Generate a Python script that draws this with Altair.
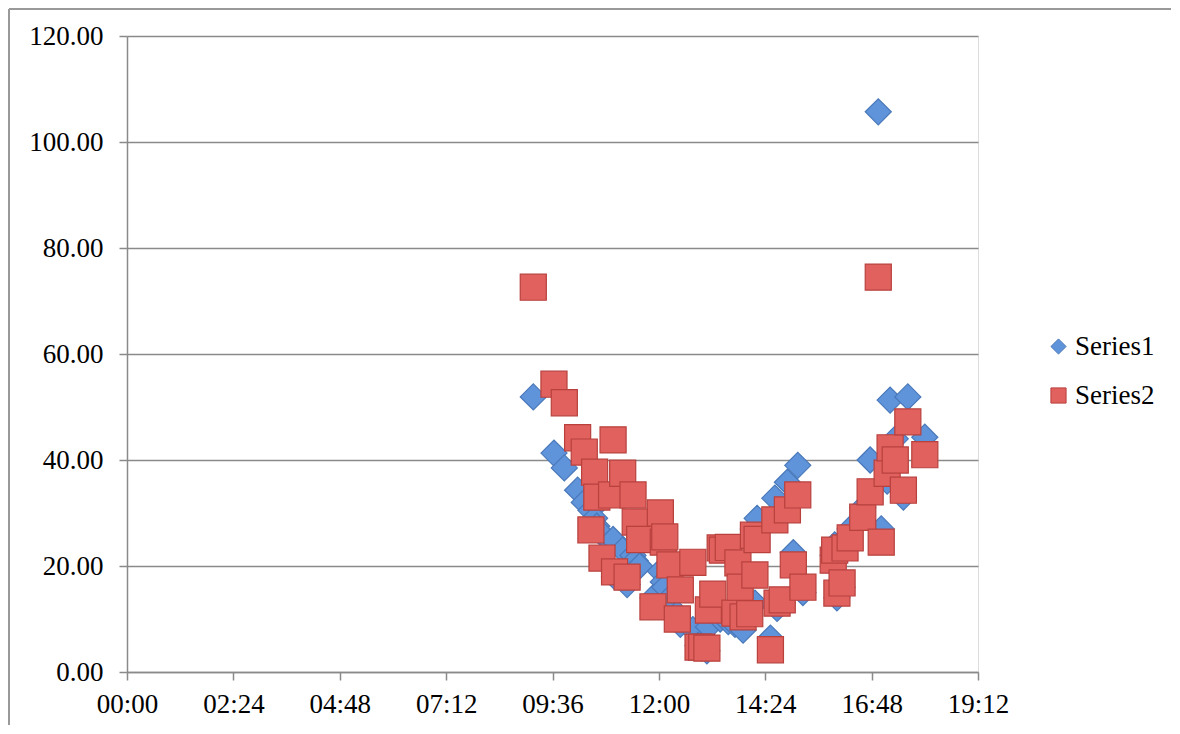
import altair as alt
import pandas as pd

# Shared x values (time of day, HH:MM)
times = ["09:10", "09:38", "09:52", "10:10", "10:19", "10:28", "10:33", "10:36", "10:43", "10:56",
         "10:58", "11:00", "11:11", "11:17", "11:25", "11:28", "11:34", "11:52", "12:02", "12:06",
         "12:08", "12:15", "12:25", "12:29", "12:46", "12:53", "12:58", "13:05", "13:07", "13:13",
         "13:23", "13:26", "13:34", "13:43", "13:47", "13:50", "13:54", "14:03", "14:08", "14:10",
         "14:13", "14:31", "14:37", "14:40", "14:47", "14:54", "15:02", "15:08", "15:15", "15:56",
         "15:58", "16:01", "16:08", "16:12", "16:19", "16:36", "16:46", "16:57", "17:01", "17:09",
         "17:13", "17:20", "17:31", "17:37", "18:00"]

series1 = [51.9, 41.3, 38.5, 34.3, 32.0, 30.5, 29.0, 27.5, 26.0, 24.5,
           25.0, 18.0, 23.0, 16.5, 22.0, 21.0, 20.0, 14.0, 19.0, 17.0,
           16.0, 14.0, 11.0, 9.0, 8.0, 5.0, 4.5, 4.0, 8.5, 13.0,
           10.0, 11.0, 9.5, 9.0, 10.0, 11.0, 7.9, 12.0, 27.0, 13.0,
           29.0, 6.4, 32.8, 12.0, 13.0, 35.8, 22.5, 39.0, 15.0, 22.0,
           24.0, 14.0, 16.0, 25.0, 27.0, 31.0, 40.0, 105.7, 27.0, 36.0,
           51.3, 44.0, 33.0, 51.9, 44.3]

series2 = [72.6, 54.3, 50.8, 44.2, 41.5, 26.8, 37.7, 33.0, 21.5, 33.4,
           43.8, 18.9, 37.5, 17.9, 33.4, 28.3, 25.0, 12.3, 30.0, 24.5,
           25.5, 20.2, 10.0, 15.5, 20.7, 4.7, 4.7, 4.5, 11.7, 14.7,
           23.4, 23.0, 23.5, 11.1, 20.6, 16.0, 10.4, 11.0, 25.8, 18.3,
           25.0, 4.2, 28.7, 13.0, 13.6, 30.6, 20.2, 33.4, 16.0, 21.1,
           23.0, 14.9, 16.8, 23.4, 25.3, 29.2, 34.0, 74.5, 24.5, 37.5,
           42.3, 40.0, 34.3, 47.2, 41.0]

series_names = ["Series1", "Series2"]
x_ticks = [0, 144, 288, 432, 576, 720, 864, 1008, 1152]
y_ticks = [0, 20, 40, 60, 80, 100, 120]


def to_min(t):
    h, m = t.split(":")
    return int(h) * 60 + int(m)


rows = []
for t, v in zip(times, series1):
    rows.append({"t": to_min(t), "v": v, "s": "Series1"})
for t, v in zip(times, series2):
    rows.append({"t": to_min(t), "v": v, "s": "Series2"})
df = pd.DataFrame(rows)

FONT = "Liberation Serif"
FS = 27
GRID = "#8a8a8a"

label_expr = ("(floor(datum.value/60) < 10 ? '0' : '') + floor(datum.value/60) + ':' + "
              "(datum.value % 60 < 10 ? '0' : '') + (datum.value % 60)")

points = alt.Chart(df).mark_point(filled=True, size=680, opacity=1, strokeWidth=1.2).encode(
    x=alt.X("t:Q", scale=alt.Scale(domain=[0, 1152], nice=False, zero=False),
            axis=alt.Axis(values=x_ticks, labelExpr=label_expr, title=None, grid=False,
                          domainColor=GRID, domainWidth=1.5, tickColor=GRID, tickWidth=1.5,
                          tickSize=8, labelFont=FONT, labelFontSize=FS, labelColor="black",
                          labelPadding=11, labelFlush=False)),
    y=alt.Y("v:Q", scale=alt.Scale(domain=[0, 120], nice=False),
            axis=alt.Axis(values=y_ticks, format=".2f", title=None, grid=True,
                          gridColor=GRID, gridWidth=1.5, domainColor=GRID, domainWidth=1.5,
                          tickColor=GRID, tickWidth=1.5, tickSize=8, labelFont=FONT,
                          labelFontSize=FS, labelColor="black", labelPadding=16)),
    color=alt.Color("s:N", scale=alt.Scale(domain=series_names, range=["#5F93DA", "#E0615D"]),
                    legend=alt.Legend(title=None, orient="none", legendX=918, legendY=297,
                                      labelFont=FONT, labelFontSize=FS, labelColor="black",
                                      symbolSize=230, rowPadding=21, labelOffset=3,
                                      symbolStrokeWidth=1)),
    stroke=alt.Stroke("s:N", scale=alt.Scale(domain=series_names, range=["#4A79BA", "#B8413E"]),
                      legend=None),
    shape=alt.Shape("s:N", scale=alt.Scale(domain=series_names, range=["diamond", "square"]),
                    legend=None),
    order=alt.Order("s:N", sort="ascending"),
)

frame_left = alt.Chart(pd.DataFrame({"a": [0]})).mark_rule(color="#999999", strokeWidth=2, clip=False).encode(
    x=alt.value(-118), y=alt.value(-27), y2=alt.value(730))
frame_top = alt.Chart(pd.DataFrame({"a": [0]})).mark_rule(color="#999999", strokeWidth=2, clip=False).encode(
    x=alt.value(-118), x2=alt.value(1080), y=alt.value(-27))

chart = alt.layer(frame_left, frame_top, points).properties(
    width=851, height=636,
    autosize=alt.AutoSizeParams(type="none"),
    padding={"left": 119, "top": 28, "right": 193, "bottom": 53},
).configure_view(stroke=None).configure(background="white")

chart.save("out.html", embed_options={"renderer": "svg", "actions": False})
